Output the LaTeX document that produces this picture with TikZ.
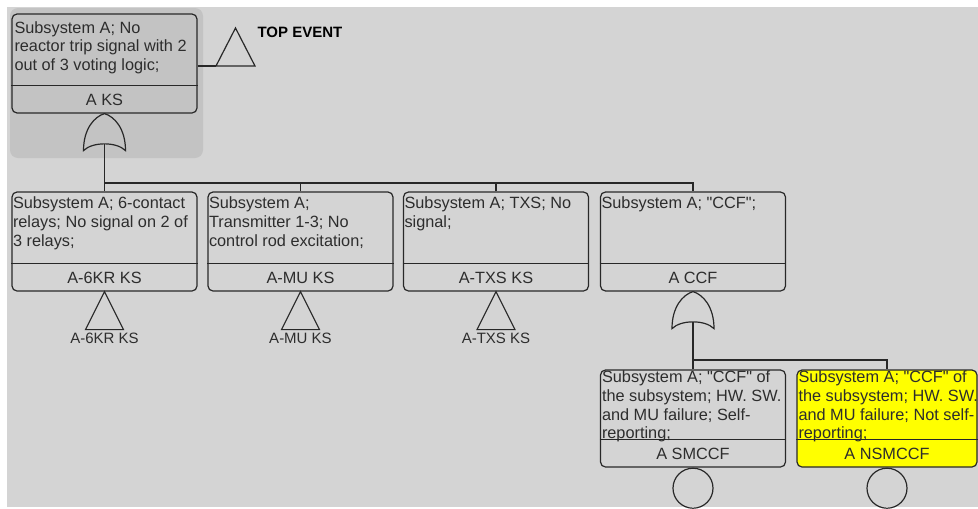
\documentclass[tikz,border=0pt]{standalone}
\usepackage{fontspec}
\newfontfamily\ftsans{Liberation Sans}
\usetikzlibrary{positioning,calc}
\definecolor{canvasgrey}{RGB}{212,212,212}
\definecolor{selgrey}{RGB}{195,195,195}
\definecolor{inkgrey}{RGB}{40,40,40}
\definecolor{textgrey}{RGB}{45,45,45}
\definecolor{hiyellow}{RGB}{255,255,0}

\begin{document}
\begin{tikzpicture}[
  x=1pt, y=-1pt,
  line width=1.2pt, color=inkgrey,
  event/.style={draw, rounded corners=5pt, minimum width=185pt, minimum height=99pt, inner sep=0pt},
  desc/.style={font=\ftsans\fontsize{16.3}{18.7}\selectfont, align=left, inner sep=0pt, anchor=north west, text=textgrey},
  ident/.style={font=\ftsans\fontsize{16.3}{18.7}\selectfont, inner sep=0pt, text=textgrey},
  xfer/.style={font=\ftsans\fontsize{15}{18}\selectfont, inner sep=0pt, anchor=north, text=textgrey},
  basic/.style={draw, circle, minimum size=40pt, inner sep=0pt, anchor=north},
  pics/orgate/.style={code={
    \draw (0,0) .. controls (-10,3) and (-21,15) .. (-21,37)
      .. controls (-12,28) and (12,28) .. (21,37)
      .. controls (21,15) and (10,3) .. (0,0) -- cycle;
    \coordinate (-out) at (0,30.5);
  }}
]
\useasboundingbox (0,0) rectangle (978,509);
\fill[white] (0,0) rectangle (978,509);
\fill[canvasgrey] (7,7) rectangle (978,507);
\fill[selgrey, rounded corners=8pt] (10,8) rectangle (203,158);

% top event
\node[event] (aks) at (104.5,63.5) {};
\node[desc] (aks-txt) at ([xshift=2.5pt,yshift=-7.3pt]aks.north west) {Subsystem A; No\\reactor trip signal with 2\\out of 3 voting logic;};
\draw ([yshift=28pt]aks.south west) -- ([yshift=28pt]aks.south east);
\node[ident] (aks-id) at ([yshift=14pt]aks.south) {A KS};
\coordinate (te-base) at (216,66);
\draw (aks.east |- te-base) -- (te-base);
\draw (te-base) -- ++(19.5,-38) -- ++(19.5,38) -- cycle;
\node[font=\ftsans\bfseries\fontsize{15}{18}\selectfont, anchor=west, inner sep=0pt, text=black] (topev) at (257,32) {TOP EVENT};
\pic (g1) at (aks.south) {orgate};

% second level
\node[event] (a6kr) at (104.5,241.5) {};
\node[event] (amu) at (300.5,241.5) {};
\node[event] (atxs) at (496,241.5) {};
\node[event] (accf) at (693,241.5) {};
\node[desc] (a6kr-txt) at ([xshift=1pt,yshift=-5pt]a6kr.north west) {Subsystem A; 6-contact\\relays; No signal on 2 of\\3 relays;};
\node[desc] (amu-txt) at ([xshift=1pt,yshift=-5pt]amu.north west) {Subsystem A;\\Transmitter 1-3; No\\control rod excitation;};
\node[desc] (atxs-txt) at ([xshift=1pt,yshift=-5pt]atxs.north west) {Subsystem A; TXS; No\\signal;};
\node[desc] (accf-txt) at ([xshift=1pt,yshift=-5pt]accf.north west) {Subsystem A; "CCF";};
\draw ([yshift=28pt]a6kr.south west) -- ([yshift=28pt]a6kr.south east);
\draw ([yshift=28pt]amu.south west) -- ([yshift=28pt]amu.south east);
\draw ([yshift=28pt]atxs.south west) -- ([yshift=28pt]atxs.south east);
\draw ([yshift=28pt]accf.south west) -- ([yshift=28pt]accf.south east);
\node[ident] (a6kr-id) at ([yshift=14pt]a6kr.south) {A-6KR KS};
\node[ident] (amu-id) at ([yshift=14pt]amu.south) {A-MU KS};
\node[ident] (atxs-id) at ([yshift=14pt]atxs.south) {A-TXS KS};
\node[ident] (accf-id) at ([yshift=14pt]accf.south) {A CCF};

\coordinate (bus1) at (104.5,183);
\draw (g1-out) -- (bus1) -| (accf.north);
\draw (bus1) -- (a6kr.north);
\draw (amu.north) -- (amu.north |- bus1);
\draw (atxs.north) -- (atxs.north |- bus1);

% transfers
\draw (a6kr.south) -- ++(-19,38) -- ++(38,0) -- cycle;
\draw (amu.south) -- ++(-19,38) -- ++(38,0) -- cycle;
\draw (atxs.south) -- ++(-19,38) -- ++(38,0) -- cycle;
\node[xfer] (a6kr-x) at ([yshift=-41pt]a6kr.south) {A-6KR KS};
\node[xfer] (amu-x) at ([yshift=-41pt]amu.south) {A-MU KS};
\node[xfer] (atxs-x) at ([yshift=-41pt]atxs.south) {A-TXS KS};

% CCF branch
\pic (g2) at (accf.south) {orgate};
\node[event, minimum height=97pt] (asm) at (693,418.5) {};
\node[event, minimum height=97pt, minimum width=180pt, fill=hiyellow] (ansm) at (887,418.5) {};
\node[desc] (asm-txt) at ([xshift=1.5pt,yshift=-1pt]asm.north west) {Subsystem A; "CCF" of\\the subsystem; HW. SW.\\and MU failure; Self-\\reporting;};
\node[desc] (ansm-txt) at ([xshift=1.5pt,yshift=-1pt]ansm.north west) {Subsystem A; "CCF" of\\the subsystem; HW. SW.\\and MU failure; Not self-\\reporting;};
\draw ([yshift=28pt]asm.south west) -- ([yshift=28pt]asm.south east);
\draw ([yshift=28pt]ansm.south west) -- ([yshift=28pt]ansm.south east);
\node[ident] (asm-id) at ([yshift=14pt]asm.south) {A SMCCF};
\node[ident] (ansm-id) at ([yshift=14pt]ansm.south) {A NSMCCF};
\coordinate (bus2) at (693,360);
\draw (g2-out) -- (bus2) -| (ansm.north);
\draw (bus2) -- (asm.north);
\node[basic] (asm-c) at (asm.south) {};
\node[basic] (ansm-c) at (ansm.south) {};
\end{tikzpicture}
\end{document}
